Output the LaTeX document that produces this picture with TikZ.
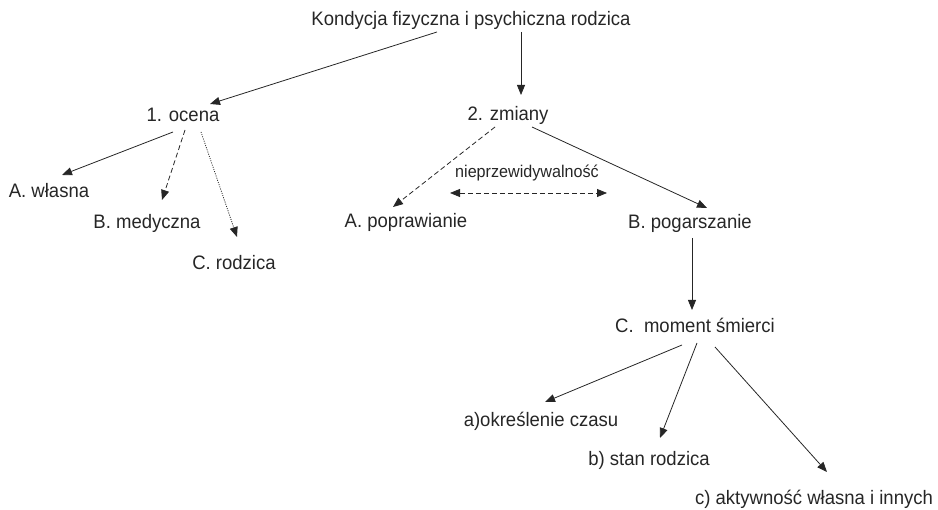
\documentclass[tikz,border=0pt]{standalone}
\usepackage{fontspec}
\setmainfont{Liberation Sans}[FakeStretch=0.95]
\usetikzlibrary{arrows.meta}
\tikzset{
  lbl/.style={anchor=base, inner sep=0pt, font=\fontsize{19.5pt}{22pt}\selectfont, text=black!85},
  conn/.style={line width=0.8pt, -{Triangle[length=10pt,width=8pt]}, black!85},
  dashconn/.style={conn, dash pattern=on 5pt off 3pt},
  dotconn/.style={conn, dash pattern=on 1pt off 1.3pt},
  smalllbl/.style={lbl, font=\fontsize{17pt}{20pt}\selectfont}
}
\begin{document}
\begin{tikzpicture}[x=1pt,y=-1pt]
\useasboundingbox (0,0) rectangle (938,510);
\node[lbl] (top) at (471,26) {Kondycja fizyczna i psychiczna rodzica};
\node[lbl] (ocena) at (183,122) {1. ocena};
\node[lbl] (zmiany) at (508,121) {2. zmiany};
\node[lbl] (wlasna) at (49,198) {A. własna};
\node[lbl] (medyczna) at (147,229) {B. medyczna};
\node[lbl] (rodzica) at (234,270) {C. rodzica};
\node[lbl] (popr) at (406,228) {A. poprawianie};
\node[lbl] (pog) at (690,229) {B. pogarszanie};
\node[smalllbl] (niep) at (527,178) {nieprzewidywalność};
\node[lbl] (moment) at (695,333) {C.\ \ moment śmierci};
\node[lbl] (czas) at (541,427) {a)określenie czasu};
\node[lbl] (stan) at (649,466) {b) stan rodzica};
\node[lbl] (aktyw) at (814,505) {c) aktywność własna i innych};

\draw[conn] ([shift={(-34,6)}]top.base) -- ([shift={(27,-18)}]ocena.base);
\draw[conn] ([shift={(50,6)}]top.base) -- ([shift={(13,-26)}]zmiany.base);
\draw[conn] ([shift={(-10,10)}]ocena.base) -- ([shift={(13,-23)}]wlasna.base);
\draw[dashconn] ([shift={(2,8)}]ocena.base) -- ([shift={(15,-29)}]medyczna.base);
\draw[dotconn] ([shift={(18,10)}]ocena.base) -- ([shift={(3,-33)}]rodzica.base);
\draw[dashconn] ([shift={(-13,6)}]zmiany.base) -- ([shift={(-13,-21)}]popr.base);
\draw[conn] ([shift={(24,6)}]zmiany.base) -- ([shift={(17,-21)}]pog.base);
\draw[dashconn, {Triangle[length=10pt,width=8pt]}-{Triangle[length=10pt,width=8pt]}] ([shift={(-77,15)}]niep.base) -- ([shift={(80,15)}]niep.base);
\draw[conn] ([shift={(2,9)}]pog.base) -- ([shift={(-3,-23)}]moment.base);
\draw[conn] ([shift={(-13,12)}]moment.base) -- ([shift={(4,-25)}]czas.base);
\draw[conn] ([shift={(2,10)}]moment.base) -- ([shift={(11,-28)}]stan.base);
\draw[conn] ([shift={(20,14)}]moment.base) -- ([shift={(13,-33)}]aktyw.base);
\end{tikzpicture}
\end{document}
